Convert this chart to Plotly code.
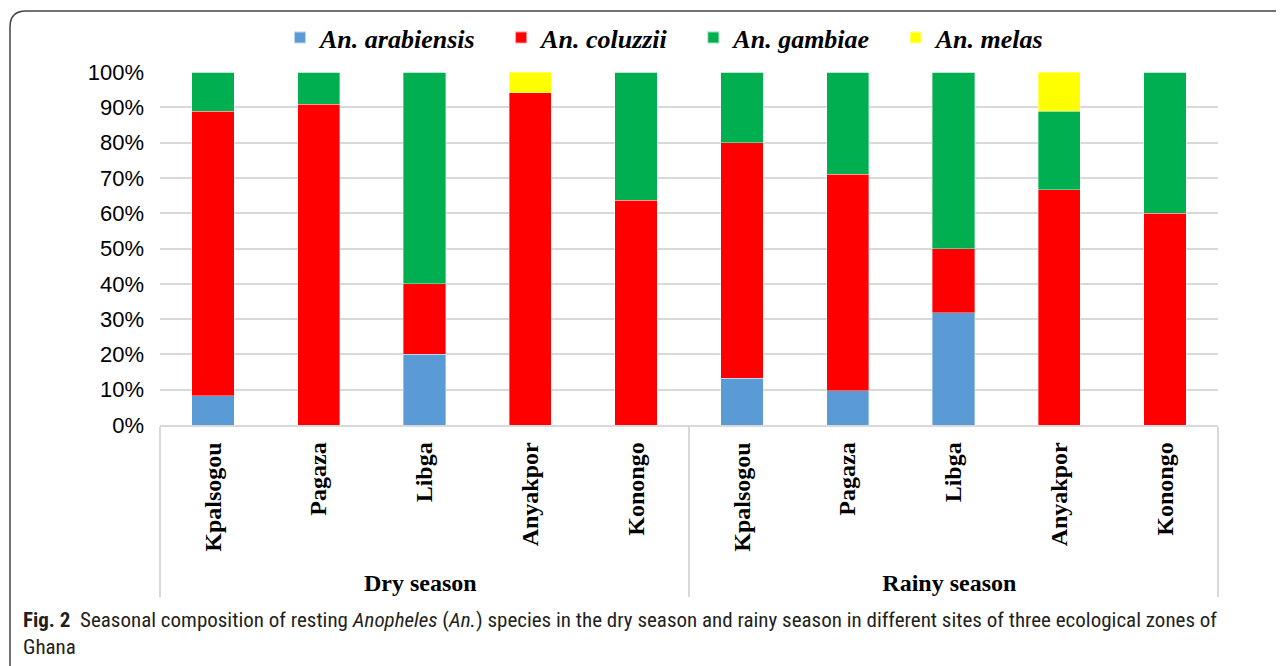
import plotly.graph_objects as go

seasons = ["Dry season"] * 5 + ["Rainy season"] * 5
sites = ["Kpalsogou", "Pagaza", "Libga", "Anyakpor", "Konongo"] * 2

arabiensis = [8.3, 0, 20.0, 0, 0, 13.3, 9.7, 31.8, 0, 0]
coluzzii = [80.6, 90.9, 20.0, 94.1, 63.6, 66.7, 61.3, 18.2, 66.7, 60.0]
gambiae = [11.1, 9.1, 60.0, 0, 36.4, 20.0, 29.0, 50.0, 22.2, 40.0]
melas = [0, 0, 0, 5.9, 0, 0, 0, 0, 11.1, 0]

series_names = ["An. arabiensis", "An. coluzzii", "An. gambiae", "An. melas"]
series_vals = [arabiensis, coluzzii, gambiae, melas]
series_cols = ["#5B9BD5", "#FF0000", "#00B050", "#FFFF00"]

# Page has an 8px body margin; work in page pixels and shift.
OFF = 8
W, H = 1284 - OFF, 666 - OFF
PL, PR, PT, PB = 160, 1218, 72, 425          # plot area in page px
L, R, T, B = PL - OFF, W - (PR - OFF), PT - OFF, H - (PB - OFF)
pw, ph = W - L - R, H - T - B

def px(x):
    return (x - OFF - L) / pw

def py(y):
    return (H - B - (y - OFF)) / ph

fig = go.Figure()
for i, (name, vals, col) in enumerate(zip(series_names, series_vals, series_cols)):
    pad = "\u00a0" * 3 if i < 3 else ""
    fig.add_trace(go.Bar(
        x=[seasons, sites], y=vals, name=name + pad,
        marker=dict(color=col, line=dict(color="rgba(255,255,255,0.6)", width=0.6)),
        width=0.4,
    ))

serif = "Liberation Serif, Times New Roman, serif"
fig.update_layout(
    width=W, height=H,
    barmode="stack",
    plot_bgcolor="white", paper_bgcolor="white",
    margin=dict(l=L, r=R, t=T, b=B, autoexpand=False),
    showlegend=True,
    legend=dict(
        orientation="h", x=px(280), xanchor="left", y=py(14), yanchor="top",
        font=dict(family=serif, size=26, color="black", weight="bold", style="italic"),
        itemsizing="constant", traceorder="normal", itemwidth=30,
    ),
    xaxis=dict(
        type="multicategory", tickangle=-90, showgrid=False, automargin=False,
        tickfont=dict(family=serif, size=24, color="black", weight="bold"),
        showline=True, linecolor="#d9d9d9", linewidth=1.5,
        dividercolor="#d9d9d9", dividerwidth=1.5, showdividers=True,
        ticks="", ticklabelstandoff=6,
    ),
    yaxis=dict(
        range=[0, 100], tickvals=[0, 10, 20, 30, 40, 50, 60, 70, 80, 90, 100],
        ticktext=[f"{v}%" for v in range(0, 101, 10)], automargin=False,
        tickfont=dict(family="Liberation Sans, Arial, sans-serif", size=22, color="black"),
        showgrid=True, gridcolor="#d9d9d9", gridwidth=1.5,
        zeroline=False, ticks="", ticklabelstandoff=15,
    ),
)

# Rounded frame
x0, y0, r = 10, 11, 16
fig.add_shape(
    type="path", xref="paper", yref="paper",
    path=f"M {px(1300)} {py(y0)} L {px(x0 + r)} {py(y0)} Q {px(x0)} {py(y0)} {px(x0)} {py(y0 + r)} L {px(x0)} {py(690)}",
    line=dict(color="#444444", width=1.5),
)

fig.add_annotation(
    xref="paper", yref="paper", x=px(21), y=py(606), xanchor="left", yanchor="top",
    align="left", showarrow=False,
    text=("<b>Fig. 2</b>  Seasonal composition of resting <i>Anopheles</i> (<i>An.</i>) species in the dry season "
          "and rainy season in different sites of three ecological zones of<br>Ghana"),
    font=dict(family="Liberation Sans Narrow, Arial Narrow, Roboto Condensed, sans-serif", size=21, color="#231f20"),
)

fig.write_html("out.html")
